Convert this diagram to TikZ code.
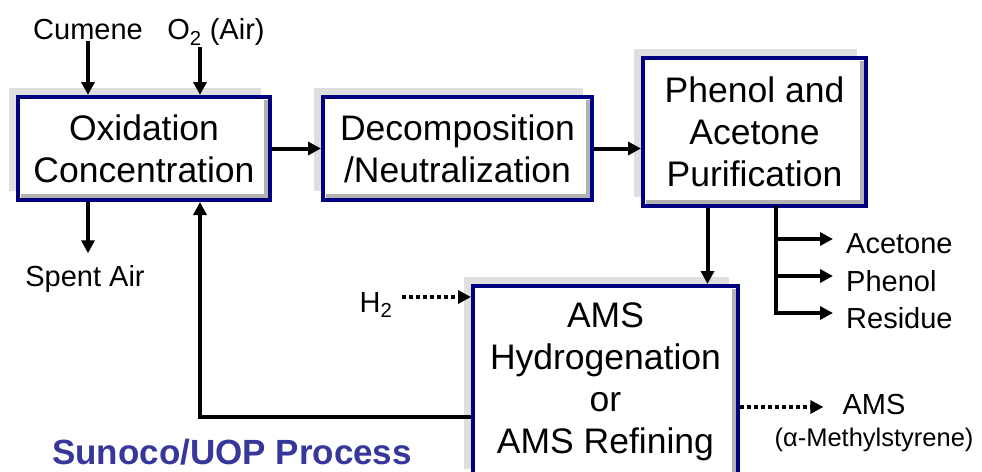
\documentclass[tikz,border=0pt]{standalone}
\usepackage{fontspec}
\setmainfont{Liberation Sans}
\usepackage{tikz}
\usetikzlibrary{positioning,shadows,calc,arrows.meta}
\definecolor{boxnavy}{RGB}{0,0,128}
\definecolor{titleblue}{RGB}{55,55,155}
\tikzset{
    unit/.style={rectangle, draw=boxnavy, line width=4pt, fill=white, align=center, inner sep=0pt,
        font=\fontsize{35.5}{42}\selectfont,
        general shadow={fill=gray!25, shadow xshift=-9pt, shadow yshift=9pt}},
    bevel/.style={draw=gray!60, line width=4pt},
    stream/.style={font=\fontsize{29}{33}\selectfont, inner sep=1pt},
    flow/.style={draw, line width=4pt, -{Triangle[length=13pt,width=13pt]}},
    pipe/.style={draw, line width=4pt, line cap=rect},
    dotflow/.style={draw, line width=4pt, dash pattern=on 4pt off 3pt, -{Triangle[length=13pt,width=13pt]}},
}
\begin{document}
\begin{tikzpicture}[x=1pt, y=1pt]
    \useasboundingbox (0,0) rectangle (982,-471);

    % process units
    \node[unit, minimum width=252pt, minimum height=103pt] (oxid) at (144,-148.5) {Oxidation\\Concentration};
    \node[unit, minimum width=269pt, minimum height=103pt] (decomp) at (457.5,-148.5) {Decomposition\\/Neutralization};
    \node[unit, minimum width=223pt, minimum height=148pt] (purif) at (754.5,-132) {Phenol and\\Acetone\\Purification};
    \node[unit, minimum width=265pt, minimum height=192pt] (hydro) at (605.5,-382) {AMS\\Hydrogenation\\or\\AMS Refining};
    \foreach \u in {oxid,decomp,purif,hydro}
        \draw[bevel] ($(\u.north east)+(-6,-5)$) -- ($(\u.south east)+(-6,6)$) -- ($(\u.south west)+(5,6)$);

    % streams
    \node[stream] (cumene) at (88,-30) {Cumene};
    \node[stream] (otwo) at (216,-32) {O\textsubscript{2} (Air)};
    \node[stream] (spent) at (85,-279) {Spent Air};
    \node[stream] (htwo) at (376,-305) {H\textsubscript{2}};
    \node[stream, anchor=west] (acetone) at (845,-244) {Acetone};
    \node[stream, anchor=west] (phenol) at (845,-281) {Phenol};
    \node[stream, anchor=west] (residue) at (845,-318) {Residue};
    \node[stream] (amsout) at (874,-405) {AMS};
    \node[stream, font=\fontsize{25.5}{29}\selectfont] (amsname) at (874,-440) {(α-Methylstyrene)};
    \node[font=\bfseries\fontsize{35}{40}\selectfont, text=titleblue] (title) at (232,-452) {Sunoco/UOP Process};

    \draw[flow] (cumene) -- (cumene |- oxid.north);
    \draw[flow] ($(otwo.south)+(-16,0)$) -- ($(otwo.south |- oxid.north)+(-16,0)$);
    \draw[flow] (oxid.south -| cumene) -- ($(spent.north -| cumene)+(0,11)$);
    \draw[flow] (oxid) -- (decomp);
    \draw[flow] (decomp.east) -- (decomp.east -| purif.west);

    \coordinate (tohydro) at ($(purif.south)+(-47,0)$);
    \draw[flow] (tohydro) -- (tohydro |- hydro.north);

    \coordinate (split) at ($(purif.south)+(21,0)$);
    \draw[pipe] (split) -- ($(split |- residue.west)+(0,5)$);
    \foreach \prd in {acetone,phenol,residue}
        \draw[flow] ($(split |- \prd.west)+(0,5)$) -- ($(\prd.west)+(-12,5)$);

    \draw[flow] ($(hydro.west)+(0,-35)$) -| ($(oxid.south)+(56,0)$);
    \draw[dotflow] ($(htwo.east)+(8,8)$) -- ($(htwo.east -| hydro.west)+(0,8)$);
    \draw[dotflow] ($(amsout.west -| hydro.east)+(0,-2)$) -- ($(amsout.west)+(-18,-2)$);
\end{tikzpicture}
\end{document}
